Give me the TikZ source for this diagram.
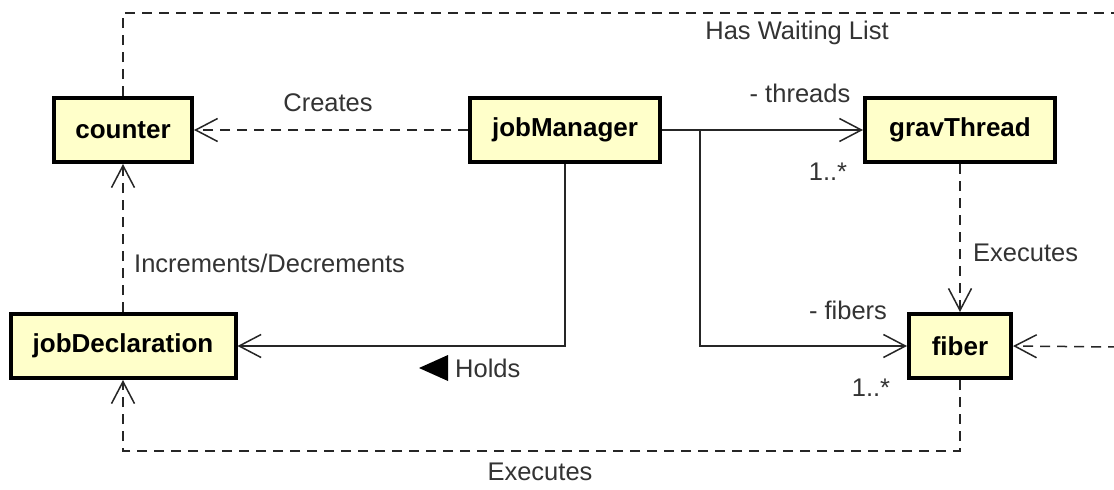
\documentclass[tikz,border=0pt]{standalone}
\usepackage{fontspec}
\setmainfont{Liberation Sans}
\usetikzlibrary{arrows.meta}
\definecolor{classfill}{HTML}{FFFFCA}
\definecolor{labelgray}{HTML}{333333}
\definecolor{linegray}{HTML}{262626}

\begin{document}
\begin{tikzpicture}[x=1pt,y=-1pt,
  classbox/.style={draw=black, line width=4pt, fill=classfill, minimum height=64pt,
    inner sep=0pt, font=\fontsize{26}{30}\selectfont\bfseries},
  lbl/.style={text=labelgray, font=\fontsize{25.5}{30}\selectfont, inner sep=0pt},
  conn/.style={draw=linegray, line width=1.5pt},
  dep/.style={conn, dash pattern=on 10pt off 7pt},
  openarrow/.style={-{Straight Barb[length=22pt,width=23pt,line width=1.5pt]}}
]
\path[use as bounding box, fill=white] (0,0) rectangle (1114,490);

% classes
\node[classbox, minimum width=138pt] (counter)        at (123,130) {counter};
\node[classbox, minimum width=190pt] (jobManager)     at (565,130) {jobManager};
\node[classbox, minimum width=190pt] (gravThread)     at (960,130) {gravThread};
\node[classbox, minimum width=225pt] (jobDeclaration) at (123,346) {jobDeclaration};
\node[classbox, minimum width=102pt] (fiber)          at (960,346) {fiber};

% helper points for routed connectors
\coordinate (branch)  at (700,130);
\coordinate (loopB)   at (123,451);
\coordinate (topEnd)  at (1118,13);
\coordinate (rightIn) at (1118,347);

% dependencies
\draw[dep, openarrow] (jobManager.west) -- (counter.east);
\draw[dep, openarrow] (jobDeclaration.north) -- (counter.south);
\draw[dep, openarrow] (gravThread.south) -- (fiber.north);
\draw[dep, openarrow] (fiber.south) |- (loopB) -- (jobDeclaration.south);
\draw[dep] (counter.north) |- (topEnd);
\draw[dep, openarrow] (rightIn) -- (fiber.east);

% associations
\draw[conn, openarrow] (jobManager.east) -- (gravThread.west);
\draw[conn, openarrow] (branch) |- (fiber.west);
\draw[conn, openarrow] (jobManager.south) |- (jobDeclaration.east);

% labels
\node[lbl] at (328,103) {Creates};
\node[lbl] at (797,33) {Has Waiting List};
\node[lbl] at (800,93) {- threads};
\node[lbl] at (828,172) {1..*};
\node[lbl, anchor=west] at (134,263) {Increments/Decrements};
\node[lbl, anchor=west] at (973,253) {Executes};
\node[lbl] at (848,310) {- fibers};
\node[lbl] at (871,388) {1..*};
\node[lbl, anchor=west] (holdsLbl) at (455,368) {Holds};
\fill[black] ([xshift=-7pt]holdsLbl.west) ++(0,-13) -- ++(0,26) -- ++(-29,-13) -- cycle;
\node[lbl] at (540,472) {Executes};
\end{tikzpicture}
\end{document}
